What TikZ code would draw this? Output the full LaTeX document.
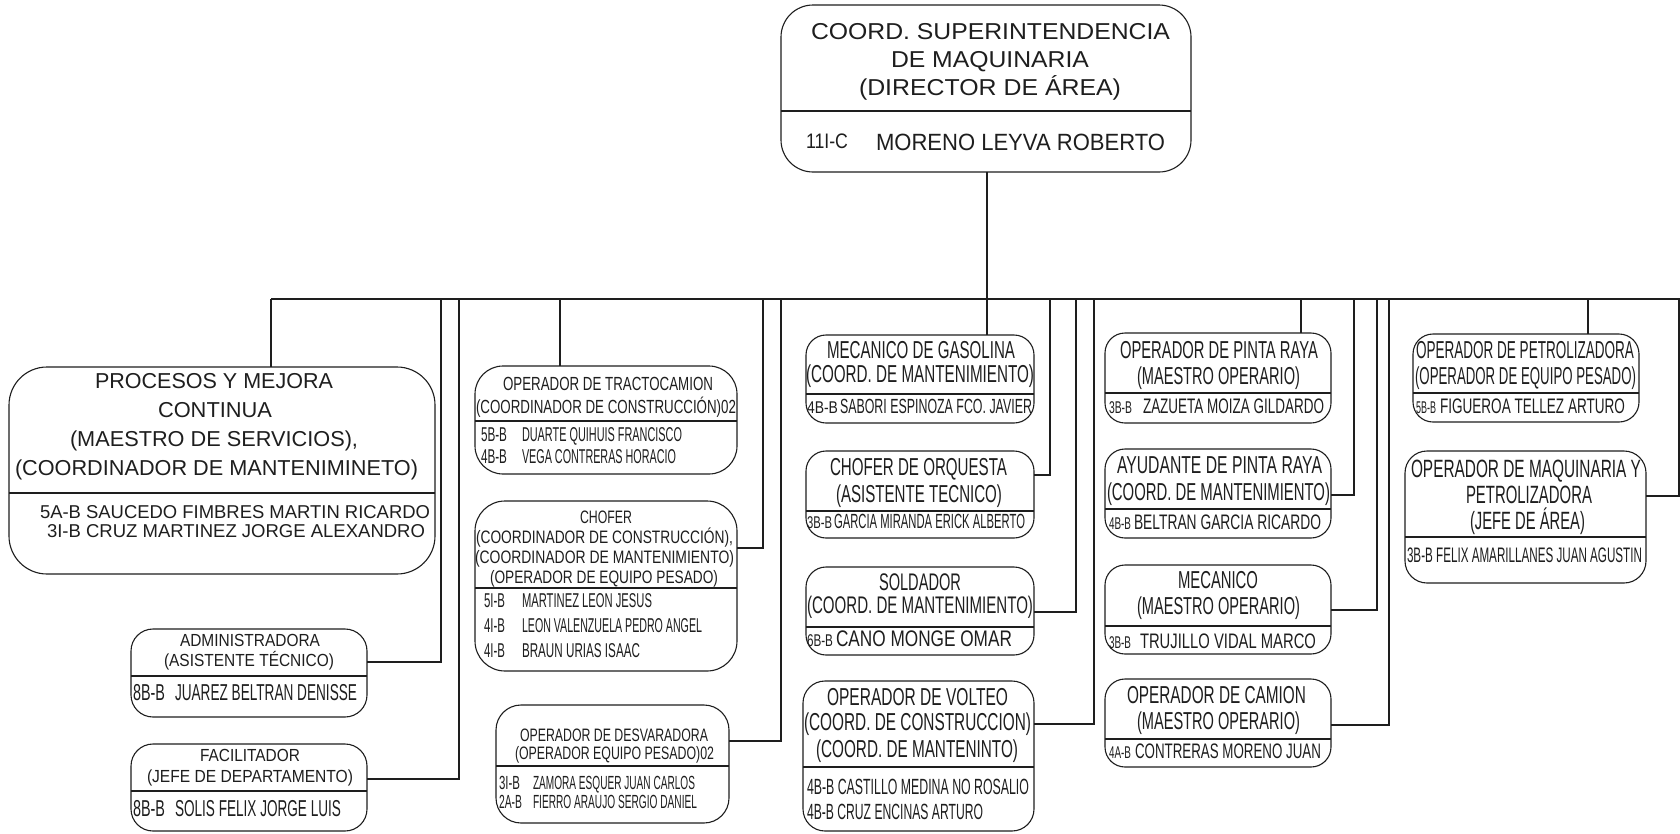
\documentclass[tikz,border=0pt]{standalone}
\usepackage{fontspec}
\setmainfont{Liberation Sans}
\usepackage{graphicx}
\definecolor{ink}{HTML}{1E1E1E}
\newdimen\tlinew
% name, x-left, x-right, baseline, font size, text
\newcommand\tline[6]{%
  \tlinew=\dimexpr #3pt-#2pt\relax
  \node[txt] (#1) at (#2,#4) {\resizebox{\tlinew}{\height}{\fontsize{#5}{#5}\selectfont #6}};}
% name, x1, y1, x2, y2, radius
\newcommand\obox[6]{%
  \pgfmathsetmacro\oboxw{#4-#2}\pgfmathsetmacro\oboxh{#5-#3}%
  \pgfmathsetmacro\oboxx{(#2+#4)/2}\pgfmathsetmacro\oboxy{(#3+#5)/2}%
  \node[box, rounded corners=#6pt, minimum width=\oboxw pt, minimum height=\oboxh pt] (#1) at (\oboxx,\oboxy) {};}
% box name, y
\newcommand\divl[2]{%
  \coordinate (#1-dv) at (0,#2);
  \draw[ln] (#1.west |- #1-dv) -- (#1.east |- #1-dv);}
\tikzset{
  ln/.style={draw=ink, line width=1.1pt},
  box/.style={draw=ink, line width=1.1pt, inner sep=0pt, outer sep=0pt},
  txt/.style={anchor=base west, inner sep=0pt, outer sep=0pt, text=ink},
}
\begin{document}
\begin{tikzpicture}[x=1pt,y=-1pt]
\useasboundingbox (0,0) rectangle (1680,833);
\fill[white] (0,0) rectangle (1680,833);

% ---------- boxes ----------
\obox{top}{781}{5}{1191}{172}{32}
\obox{proc}{9}{367}{435}{574}{38}
\obox{admin}{131}{629}{367}{717}{22}
\obox{facil}{131}{744}{367}{831}{22}
\obox{tracto}{475}{366}{737}{474}{28}
\obox{chofer}{475}{501}{737}{671}{30}
\obox{desv}{496}{705}{729}{823}{25}
\obox{mecg}{806}{335}{1034}{423}{20}
\obox{orq}{806}{451}{1034}{538}{20}
\obox{sold}{806}{567}{1034}{655}{20}
\obox{volt}{803}{681}{1034}{831}{22}
\obox{pinta}{1105}{333}{1331}{423}{20}
\obox{ayud}{1105}{449}{1331}{538}{20}
\obox{mecn}{1105}{565}{1331}{654}{20}
\obox{camion}{1105}{679}{1331}{767}{20}
\obox{petrol}{1413}{334}{1639}{422}{20}
\obox{maq}{1405}{451}{1646}{583}{22}

% ---------- dividers ----------
\divl{top}{111}
\divl{proc}{493}
\divl{admin}{676}
\divl{facil}{791}
\divl{tracto}{421}
\divl{chofer}{588}
\divl{desv}{766}
\divl{mecg}{394}
\divl{orq}{511}
\divl{sold}{627}
\divl{volt}{767}
\divl{pinta}{393}
\divl{ayud}{509}
\divl{mecn}{626}
\divl{camion}{739}
\divl{petrol}{393}
\divl{maq}{537}

% ---------- connectors ----------
\coordinate (bP) at (271,299);
\coordinate (bA) at (441,299);
\coordinate (bF) at (459,299);
\coordinate (bT) at (560,299);
\coordinate (bC) at (763,299);
\coordinate (bD) at (781,299);
\coordinate (bG) at (987,299);
\coordinate (bO) at (1050,299);
\coordinate (bS) at (1076,299);
\coordinate (bV) at (1094,299);
\coordinate (bR) at (1301,299);
\coordinate (bY) at (1354,299);
\coordinate (bM) at (1377,299);
\coordinate (bK) at (1389,299);
\coordinate (bE) at (1588,299);
\coordinate (bQ) at (1679,299);
\coordinate (bEnd) at (1680,299);

\draw[ln] (bP) -- (bEnd);
\draw[ln] (bG |- top.south) -- (bG);
\draw[ln] (bP) -- (bP |- proc.north);
\draw[ln] (bA) |- ([yshift=11pt]admin.east);
\draw[ln] (bF) |- ([yshift=8.5pt]facil.east);
\draw[ln] (bT) -- (bT |- tracto.north);
\draw[ln] (bC) |- ([yshift=38pt]chofer.east);
\draw[ln] (bD) |- ([yshift=23pt]desv.east);
\draw[ln] (bG) -- (bG |- mecg.north);
\draw[ln] (bO) |- ([yshift=19.5pt]orq.east);
\draw[ln] (bS) |- ([yshift=-1pt]sold.east);
\draw[ln] (bV) |- ([yshift=32pt]volt.east);
\draw[ln] (bR) -- (bR |- pinta.north);
\draw[ln] (bY) |- ([yshift=-1.5pt]ayud.east);
\draw[ln] (bM) |- ([yshift=-0.5pt]mecn.east);
\draw[ln] (bK) |- ([yshift=-2pt]camion.east);
\draw[ln] (bE) -- (bE |- petrol.north);
\draw[ln] (bQ) |- ([yshift=21pt]maq.east);

% ---------- texts ----------
% top
\tline{t1}{811}{1170}{39}{23}{COORD. SUPERINTENDENCIA}
\tline{t2}{891}{1089}{67}{23}{DE MAQUINARIA}
\tline{t3}{859}{1121}{95}{23}{(DIRECTOR DE ÁREA)}
\tline{t4}{806}{848}{148}{21}{11I-C}
\tline{t5}{876}{1165}{150}{23.5}{MORENO LEYVA ROBERTO}
% procesos
\tline{p1}{95}{333}{388}{21.6}{PROCESOS Y MEJORA}
\tline{p2}{158}{272}{417}{21.6}{CONTINUA}
\tline{p3}{70}{358}{446}{21.6}{(MAESTRO DE SERVICIOS),}
\tline{p4}{15}{418}{475}{21.6}{(COORDINADOR DE MANTENIMINETO)}
\tline{p5}{40}{430}{518}{18.6}{5A-B SAUCEDO FIMBRES MARTIN RICARDO}
\tline{p6}{47}{425}{537}{18.6}{3I-B CRUZ MARTINEZ JORGE ALEXANDRO}
% administradora
\tline{a1}{180}{320}{646}{17.5}{ADMINISTRADORA}
\tline{a2}{164}{334}{666}{17.5}{(ASISTENTE TÉCNICO)}
\tline{a3}{133}{165}{700}{23}{8B-B}
\tline{a4}{175}{357}{700}{23}{JUAREZ BELTRAN DENISSE}
% facilitador
\tline{f1}{200}{300}{761}{17.5}{FACILITADOR}
\tline{f2}{147}{353}{782}{17.5}{(JEFE DE DEPARTAMENTO)}
\tline{f3}{133}{165}{816}{23}{8B-B}
\tline{f4}{175}{341}{816}{23}{SOLIS FELIX JORGE LUIS}
% tractocamion
\tline{r1}{503}{713}{390}{19}{OPERADOR DE TRACTOCAMION}
\tline{r2}{476}{736}{413}{19}{(COORDINADOR DE CONSTRUCCIÓN)02}
\tline{r3}{481}{507}{441}{20}{5B-B}
\tline{r4}{522}{682}{441}{20}{DUARTE QUIHUIS FRANCISCO}
\tline{r5}{481}{507}{463}{20}{4B-B}
\tline{r6}{522}{676}{463}{20}{VEGA CONTRERAS HORACIO}
% chofer
\tline{c1}{580}{632}{523}{18}{CHOFER}
\tline{c2}{476}{733}{543}{18}{(COORDINADOR DE CONSTRUCCIÓN),}
\tline{c3}{475}{734}{563}{18}{(COORDINADOR DE MANTENIMIENTO)}
\tline{c4}{490}{718}{583}{18}{(OPERADOR DE EQUIPO PESADO)}
\tline{c5}{484}{505}{607}{20}{5I-B}
\tline{c6}{522}{652}{607}{20}{MARTINEZ LEON JESUS}
\tline{c7}{484}{505}{632}{20}{4I-B}
\tline{c8}{522}{702}{632}{20}{LEON VALENZUELA PEDRO ANGEL}
\tline{c9}{484}{505}{657}{20}{4I-B}
\tline{c10}{522}{640}{657}{20}{BRAUN URIAS ISAAC}
% desvaradora
\tline{d1}{520}{708}{741}{18}{OPERADOR DE DESVARADORA}
\tline{d2}{515}{714}{759}{18}{(OPERADOR EQUIPO PESADO)02}
\tline{d3}{499}{520}{789}{19}{3I-B}
\tline{d4}{533}{695}{789}{19}{ZAMORA ESQUER JUAN CARLOS}
\tline{d5}{499}{522}{808}{19}{2A-B}
\tline{d6}{533}{697}{808}{19}{FIERRO ARAUJO SERGIO DANIEL}
% mecanico de gasolina
\tline{g1}{827}{1015}{358}{24.5}{MECANICO DE GASOLINA}
\tline{g2}{806}{1034}{382}{24.5}{(COORD. DE MANTENIMIENTO)}
\tline{g3}{807}{838}{413}{17}{4B-B}
\tline{g4}{840}{1032}{413}{20.5}{SABORI ESPINOZA FCO. JAVIER}
% chofer de orquesta
\tline{o1}{830}{1007}{475}{24.5}{CHOFER DE ORQUESTA}
\tline{o2}{836}{1002}{502}{24.5}{(ASISTENTE TECNICO)}
\tline{o3}{807}{832}{528}{17}{3B-B}
\tline{o4}{834}{1025}{528}{20.5}{GARCIA MIRANDA ERICK ALBERTO}
% soldador
\tline{s1}{879}{961}{590}{24}{SOLDADOR}
\tline{s2}{807}{1033}{613}{24}{(COORD. DE MANTENIMIENTO)}
\tline{s3}{807}{833}{646}{17}{6B-B}
\tline{s4}{836}{1012}{646}{22.5}{CANO MONGE OMAR}
% volteo
\tline{v1}{827}{1008}{705}{24.5}{OPERADOR DE VOLTEO}
\tline{v2}{804}{1031}{730}{24.5}{(COORD. DE CONSTRUCCION)}
\tline{v3}{816}{1018}{757}{24.5}{(COORD. DE MANTENINTO)}
\tline{v4}{807}{1029}{794}{22}{4B-B CASTILLO MEDINA NO ROSALIO}
\tline{v5}{807}{983}{819}{22}{4B-B CRUZ ENCINAS ARTURO}
% pinta raya
\tline{y1}{1120}{1318}{358}{24.5}{OPERADOR DE PINTA RAYA}
\tline{y2}{1137}{1300}{384}{24.5}{(MAESTRO OPERARIO)}
\tline{y3}{1109}{1132}{413}{17}{3B-B}
\tline{y4}{1143}{1324}{413}{21}{ZAZUETA MOIZA GILDARDO}
% ayudante
\tline{u1}{1117}{1322}{473}{24.5}{AYUDANTE DE PINTA RAYA}
\tline{u2}{1107}{1330}{500}{24.5}{(COORD. DE MANTENIMIENTO)}
\tline{u3}{1109}{1131}{529}{17}{4B-B}
\tline{u4}{1134}{1321}{529}{21}{BELTRAN GARCIA RICARDO}
% mecanico
\tline{m1}{1178}{1258}{588}{24.5}{MECANICO}
\tline{m2}{1137}{1300}{614}{24.5}{(MAESTRO OPERARIO)}
\tline{m3}{1109}{1131}{648}{17}{3B-B}
\tline{m4}{1140}{1316}{648}{21}{TRUJILLO VIDAL MARCO}
% camion
\tline{k1}{1127}{1306}{703}{24.5}{OPERADOR DE CAMION}
\tline{k2}{1137}{1300}{729}{24.5}{(MAESTRO OPERARIO)}
\tline{k3}{1109}{1131}{758}{17}{4A-B}
\tline{k4}{1135}{1321}{758}{21}{CONTRERAS MORENO JUAN}
% petrolizadora
\tline{e1}{1416}{1634}{358}{24.5}{OPERADOR DE PETROLIZADORA}
\tline{e2}{1415}{1636}{384}{24.5}{(OPERADOR DE EQUIPO PESADO)}
\tline{e3}{1416}{1436}{413}{17}{5B-B}
\tline{e4}{1440}{1625}{413}{21}{FIGUEROA TELLEZ ARTURO}
% maquinaria y petrolizadora
\tline{q1}{1411}{1641}{477}{25}{OPERADOR DE MAQUINARIA Y}
\tline{q2}{1466}{1592}{503}{25}{PETROLIZADORA}
\tline{q3}{1470}{1585}{529}{25}{(JEFE DE ÁREA)}
\tline{q4}{1407}{1642}{562}{21}{3B-B FELIX AMARILLANES JUAN AGUSTIN}
\end{tikzpicture}
\end{document}
